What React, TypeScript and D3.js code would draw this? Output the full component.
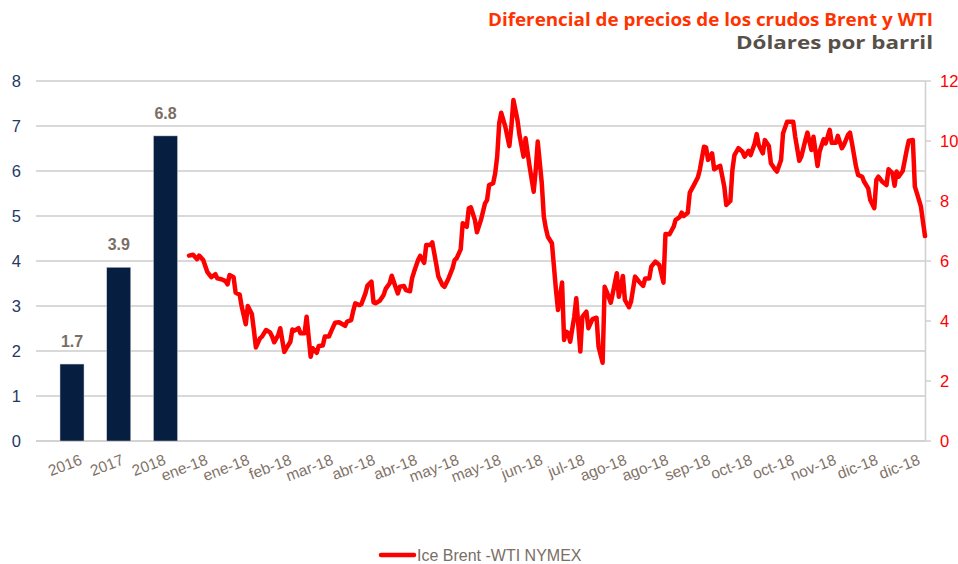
import React from 'react';
import * as d3 from 'd3';

const barYears = ['2016', '2017', '2018'];
const barValues = [1.71, 3.86, 6.78];

const axisLabels = [
  '2016', '2017', '2018', 'ene-18', 'ene-18', 'feb-18', 'mar-18', 'abr-18', 'abr-18',
  'may-18', 'may-18', 'jun-18', 'jul-18', 'ago-18', 'ago-18', 'sep-18', 'oct-18',
  'oct-18', 'nov-18', 'dic-18', 'dic-18',
];

const leftTicks = [0, 1, 2, 3, 4, 5, 6, 7, 8];
const rightTicks = [0, 2, 4, 6, 8, 10, 12];

// days since 2 Jan 2018
const lineDays = [
  0, 2, 4, 5, 7, 9, 11, 13, 14, 16, 18, 19, 20, 22, 23, 25, 26, 28, 29, 31, 32, 33, 35, 36, 38, 40,
  41, 42, 44, 45, 47, 48, 50, 51, 52, 54, 55, 57, 58, 60, 61, 63, 64, 66, 67, 69, 70, 72, 74, 77,
  78, 80, 81, 82, 84, 85, 87, 88, 90, 91, 92, 94, 96, 97, 99, 100, 102, 103, 104, 106, 107, 109,
  110, 111, 113, 114, 116, 117, 119, 120, 122, 123, 125, 126, 128, 130, 131, 132, 134, 135, 137,
  138, 139, 141, 142, 144, 146, 147, 148, 150, 151, 152, 153, 154, 156, 158, 159, 160, 162, 163,
  165, 166, 168, 170, 171, 172, 174, 175, 176, 177, 179, 180, 181, 182,
  184, 185, 186, 187, 188, 190, 191, 193, 194, 196, 197, 199, 201, 202, 204, 205, 206, 208, 209,
  211, 212, 214, 215, 217, 218, 220, 222, 224, 225, 227, 228, 230, 232, 234, 235, 237, 239, 240,
  242, 243, 244, 246, 247, 249, 251, 252, 254, 255, 256, 258, 259, 261, 262, 264, 265, 267, 268,
  269, 271, 273, 274, 276, 277, 279, 280, 281, 283, 284, 286, 287, 289, 290, 292, 293, 295, 298,
  299, 301, 302, 304, 305, 307, 308, 310, 311, 313, 314, 316, 317, 319, 320, 322, 323, 325, 326,
  327, 329, 330, 332, 333, 335, 336, 338, 339, 340, 342, 344, 345, 347, 348, 349, 350, 352, 354,
  355, 357, 358, 359, 361, 362, 363,
];

const lineValues = [
  6.18, 6.21, 6.06, 6.18, 6.03, 5.64, 5.46, 5.56, 5.42, 5.39, 5.33, 5.22, 5.53, 5.46, 4.94, 4.88,
  4.48, 3.89, 4.5, 4.23, 3.7, 3.12, 3.42, 3.48, 3.7, 3.62, 3.48, 3.29, 3.53, 3.76, 2.97, 3.09,
  3.31, 3.72, 3.68, 3.76, 3.59, 3.59, 4.14, 2.81, 3.09, 2.94, 3.17, 3.18, 3.48, 3.48, 3.64, 3.94,
  3.96, 3.84, 3.98, 4.03, 4.34, 4.59, 4.53, 4.56, 4.92, 5.18, 5.31, 4.62, 4.59, 4.67, 4.87, 5.07,
  5.26, 5.51, 5.11, 4.92, 5.14, 5.17, 5.03, 4.99, 5.42, 5.64, 6.03, 6.17, 5.94, 6.53, 6.53, 6.62,
  5.87, 5.48, 5.2, 5.14, 5.42, 5.76, 6.03, 6.09, 6.39, 7.26, 7.14, 7.76, 7.79, 7.37, 6.96, 7.37,
  7.92, 8.03, 8.53, 8.59, 8.92, 9.48, 10.59, 10.94, 10.48, 9.83, 10.48, 11.37, 10.7, 10.2, 9.48,
  10.09, 9.14, 8.31, 9.03, 9.98, 8.59, 7.48, 7.09, 6.81, 6.59, 5.81, 5.03, 4.37,
  5.28, 3.37, 3.64, 3.6, 3.31, 4.14, 4.76, 2.98, 4.14, 4.31, 3.76, 4.06, 4.11, 3.14, 2.61, 5.14,
  4.98, 4.61, 4.92, 5.59, 4.81, 5.5, 4.7, 4.46, 4.64, 5.48, 5.31, 5.17, 5.42, 5.42, 5.81, 5.98,
  5.87, 5.28, 6.9, 6.89, 7.14, 7.37, 7.46, 7.61, 7.5, 7.61, 8.28, 8.53, 8.79, 9.06, 9.81, 9.79,
  9.37, 9.59, 9.06, 9.14, 9.17, 8.48, 7.87, 8.0, 9.03, 9.53, 9.76, 9.64, 9.48, 9.67, 9.53, 9.92,
  10.23, 9.87, 9.59, 10.03, 9.83, 9.26, 9.06, 8.98, 9.37, 10.26, 10.64, 10.64, 10.14, 9.34, 9.48,
  10.03, 10.28, 9.7, 10.14, 9.17, 9.64, 10.06, 9.92, 10.37, 9.94, 9.94, 10.17, 9.76, 9.87, 10.2,
  10.28, 9.92, 9.14, 8.87, 8.81, 8.64, 8.42, 8.03, 7.76, 8.7, 8.81, 8.64, 8.53, 9.06, 8.92, 8.51,
  8.98, 8.81, 9.0, 9.7, 10.01, 10.03, 8.48, 8.26, 7.81, 7.31, 6.83,
];

const titleText = 'Diferencial de precios de los crudos Brent y WTI';
const subtitleText = 'Dólares por barril';
const legendText = 'Ice Brent -WTI NYMEX';

const W = 958;
const H = 564;
const plotLeft = 36;
const plotRight = 925;
const plotTop = 81;
const plotBottom = 441;

export default function App() {
  const yLeft = d3.scaleLinear().domain([0, 8]).range([plotBottom, plotTop]);
  const yRight = d3.scaleLinear().domain([0, 12]).range([plotBottom, plotTop]);
  const xBar = d3.scalePoint<string>().domain(barYears).range([72, 165.5]);
  const barW = 24;
  const start = new Date(2018, 0, 2);
  const xTime = d3
    .scaleTime()
    .domain([start, new Date(2018, 11, 31)])
    .range([189, plotRight]);
  const xLabel = d3
    .scalePoint<number>()
    .domain(axisLabels.map((_, i) => i))
    .range([83, 921]);

  const pts = lineDays.map((d, i) => ({ date: d3.timeDay.offset(start, d), v: lineValues[i] }));
  const linePath = d3
    .line<{ date: Date; v: number }>()
    .x((d) => xTime(d.date))
    .y((d) => yRight(d.v))(pts);

  const font = '"Liberation Sans", Arial, sans-serif';

  return (
    <svg
      width={W}
      height={H}
      style={{ position: 'absolute', left: 0, top: 0, display: 'block', background: '#fff' }}
    >
      {/* title */}
      <text
        x={933}
        y={26}
        textAnchor="end"
        fill="#FF3300"
        fontFamily='"Open Sans", sans-serif'
        fontWeight="bold"
        fontSize={18.5}
        textLength={445}
        lengthAdjust="spacingAndGlyphs"
      >
        {titleText}
      </text>
      <text
        x={933}
        y={49}
        textAnchor="end"
        fill="#575049"
        fontFamily='"Open Sans", sans-serif'
        fontWeight="bold"
        fontSize={18.5}
        textLength={197}
        lengthAdjust="spacingAndGlyphs"
      >
        {subtitleText}
      </text>

      {/* gridlines */}
      {leftTicks.map((t) => (
        <line
          key={'g' + t}
          x1={plotLeft}
          x2={plotRight}
          y1={yLeft(t)}
          y2={yLeft(t)}
          stroke={t === 0 ? '#a6a6a6' : '#b3b3b3'}
          strokeWidth={1}
        />
      ))}

      {/* left axis labels */}
      {leftTicks.map((t) => (
        <text
          key={'l' + t}
          x={21}
          y={yLeft(t)}
          dy="0.35em"
          textAnchor="end"
          fill="#1F3864"
          fontFamily={font}
          fontSize={16.5}
        >
          {t}
        </text>
      ))}

      {/* right axis */}
      <line x1={plotRight + 0.5} x2={plotRight + 0.5} y1={plotTop} y2={plotBottom} stroke="#d0d0d0" strokeWidth={1.5} />
      {rightTicks.map((t) => (
        <g key={'r' + t}>
          <line x1={plotRight} x2={plotRight + 6} y1={yRight(t)} y2={yRight(t)} stroke="#d0d0d0" strokeWidth={1.5} />
          <text
            x={940}
            y={yRight(t)}
            dy="0.35em"
            textAnchor="start"
            fill="#FF0000"
            fontFamily={font}
            fontSize={16.5}
          >
            {t}
          </text>
        </g>
      ))}

      {/* bars */}
      {barYears.map((y, i) => (
        <g key={'b' + y}>
          <rect
            x={(xBar(y) as number) - barW / 2}
            y={yLeft(barValues[i])}
            width={barW}
            height={yLeft(0) - yLeft(barValues[i])}
            fill="#061E40"
            stroke="#c8ccd4"
            strokeWidth={0.5}
          />
          <text
            x={xBar(y) as number}
            y={yLeft(barValues[i]) - 17}
            textAnchor="middle"
            fill="#7a6e64"
            fontFamily={font}
            fontWeight="bold"
            fontSize={16}
          >
            {barValues[i].toFixed(1)}
          </text>
        </g>
      ))}

      {/* line */}
      <path
        d={linePath || ''}
        fill="none"
        stroke="#FF0000"
        strokeWidth={4.5}
        strokeLinejoin="round"
        strokeLinecap="round"
      />

      {/* x labels */}
      {axisLabels.map((lab, i) => (
        <text
          key={'x' + i}
          transform={`translate(${xLabel(i)},464) rotate(-21)`}
          textAnchor="end"
          fill="#7f7268"
          fontFamily={font}
          fontSize={15.5}
        >
          {lab}
        </text>
      ))}

      {/* legend */}
      <line x1={381} x2={414} y1={555} y2={555} stroke="#FF0000" strokeWidth={4.5} strokeLinecap="round" />
      <text x={417} y={561} fill="#7a6e64" fontFamily={font} fontSize={16}>
        {legendText}
      </text>
    </svg>
  );
}
